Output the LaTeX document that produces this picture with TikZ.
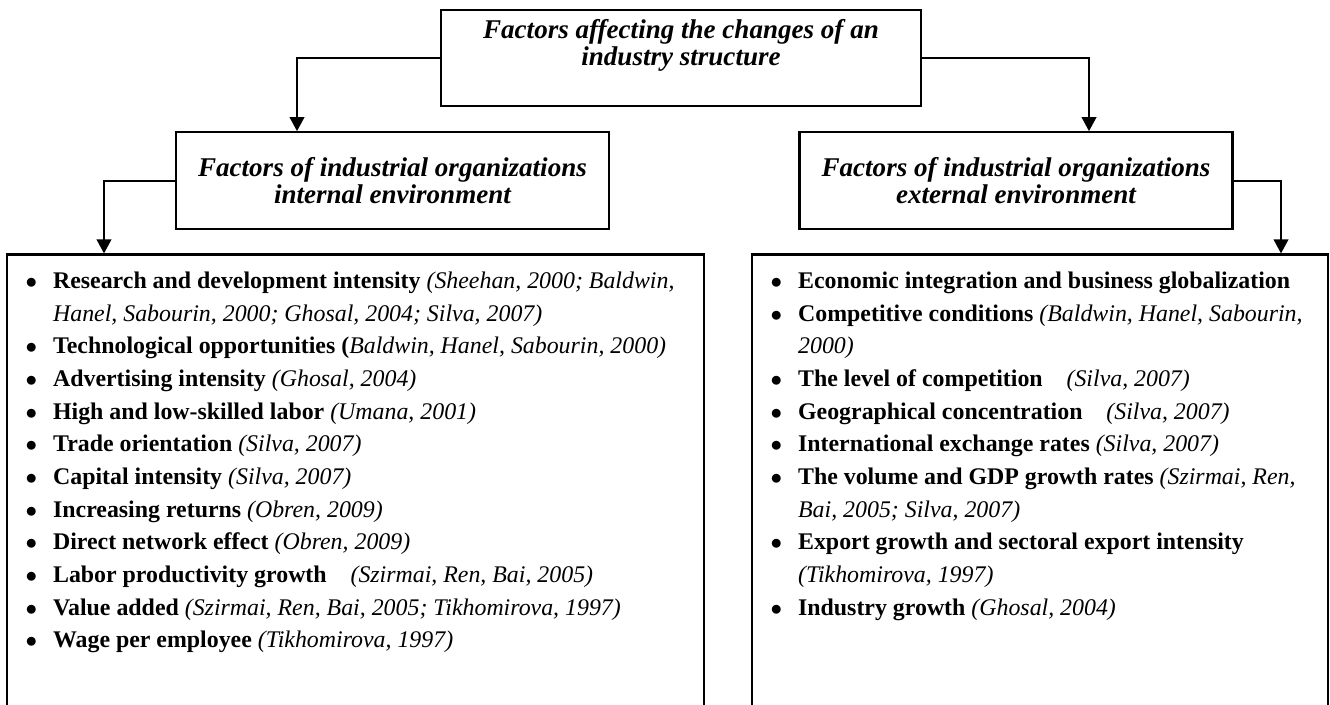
\documentclass[tikz,border=0pt]{standalone}
\usepackage{fontspec}
\setmainfont{Liberation Serif}
\usepackage{enumitem}
\usepackage{tikz}
\usetikzlibrary{positioning,arrows.meta,calc}

\newcommand{\boxtitlefont}{\fontsize{20.3pt}{20.3pt}\selectfont\bfseries\itshape}
\newcommand{\factorfont}{\fontsize{17.9pt}{24.5pt}\selectfont}
\setlist[itemize]{label=$\bullet$, leftmargin=18.75pt, labelsep=12pt,
  itemsep=0pt, parsep=0pt, topsep=0pt, partopsep=0pt}

\begin{document}
\begin{tikzpicture}[
    node distance=18pt,
    box/.style={rectangle, draw, line width=1.7pt, align=center, inner sep=0pt},
    topbox/.style={box, minimum width=360pt, minimum height=72pt, font=\boxtitlefont},
    envbox/.style={box, minimum width=324.75pt, minimum height=72.75pt, font=\boxtitlefont},
    listbox/.style={box, minimum height=360pt},
    factors/.style={inner sep=0pt, font=\factorfont, align=left},
    arrow/.style={-{Triangle[length=10.5pt,width=11pt]}, line width=1.3pt}
]
\useasboundingbox (0,0) rectangle (997.5pt,-528pt);

% Top
\node[topbox, text depth=23.5pt] (changes) at (510.75pt,-43.5pt) {Factors affecting the changes of an\\industry structure};

% Environments
\node[envbox, below=18pt of changes, xshift=-216.4pt] (internal) {Factors of industrial organizations\\internal environment};
\node[envbox, below=18pt of changes, xshift=251.25pt] (external) {Factors of industrial organizations\\external environment};

% Factor boxes
\node[listbox, minimum width=522.75pt, below=17.25pt of internal, xshift=-27.75pt] (intbox) {};
\node[listbox, minimum width=432pt, below=17.25pt of external, xshift=18pt] (extbox) {};

\node[factors, below right=13.6pt and 16.5pt of intbox.north west] (intitems) {%
\begin{minipage}{500pt}\raggedright
\begin{itemize}
\item \textbf{Research and development intensity} \textit{(Sheehan, 2000; Baldwin,\newline Hanel, Sabourin, 2000; Ghosal, 2004; Silva, 2007)}
\item \textbf{Technological opportunities (}\textit{Baldwin, Hanel, Sabourin, 2000)}
\item \textbf{Advertising intensity} \textit{(Ghosal, 2004)}
\item \textbf{High and low-skilled labor} \textit{(Umana, 2001)}
\item \textbf{Trade orientation} \textit{(Silva, 2007)}
\item \textbf{Capital intensity} \textit{(Silva, 2007)}
\item \textbf{Increasing returns} \textit{(Obren, 2009)}
\item \textbf{Direct network effect} \textit{(Obren, 2009)}
\item \textbf{Labor productivity growth}\hspace{1em}\textit{(Szirmai, Ren, Bai, 2005)}
\item \textbf{Value added} \textit{(Szirmai, Ren, Bai, 2005; Tikhomirova, 1997)}
\item \textbf{Wage per employee} \textit{(Tikhomirova, 1997)}
\end{itemize}
\end{minipage}};

\node[factors, below right=13.6pt and 16.5pt of extbox.north west] (extitems) {%
\begin{minipage}{410pt}\raggedright
\begin{itemize}
\item \textbf{Economic integration and business globalization}
\item \textbf{Competitive conditions} \textit{(Baldwin, Hanel, Sabourin,\newline 2000)}
\item \textbf{The level of competition}\hspace{1em}\textit{(Silva, 2007)}
\item \textbf{Geographical concentration}\hspace{1em}\textit{(Silva, 2007)}
\item \textbf{International exchange rates} \textit{(Silva, 2007)}
\item \textbf{The volume and GDP growth rates} \textit{(Szirmai, Ren,\newline Bai, 2005; Silva, 2007)}
\item \textbf{Export growth and sectoral export intensity}\newline \textit{(Tikhomirova, 1997)}
\item \textbf{Industry growth} \textit{(Ghosal, 2004)}
\end{itemize}
\end{minipage}};

% Arrows
\draw[arrow] (changes.west) -| ([xshift=-71.6pt]internal.north);
\draw[arrow] (changes.east) -| ([xshift=54.75pt]external.north);
\draw[arrow] (internal.west) -| ([xshift=-188.6pt]intbox.north);
\draw[arrow] (external.east) -| ([xshift=180.75pt]extbox.north);

\end{tikzpicture}
\end{document}
